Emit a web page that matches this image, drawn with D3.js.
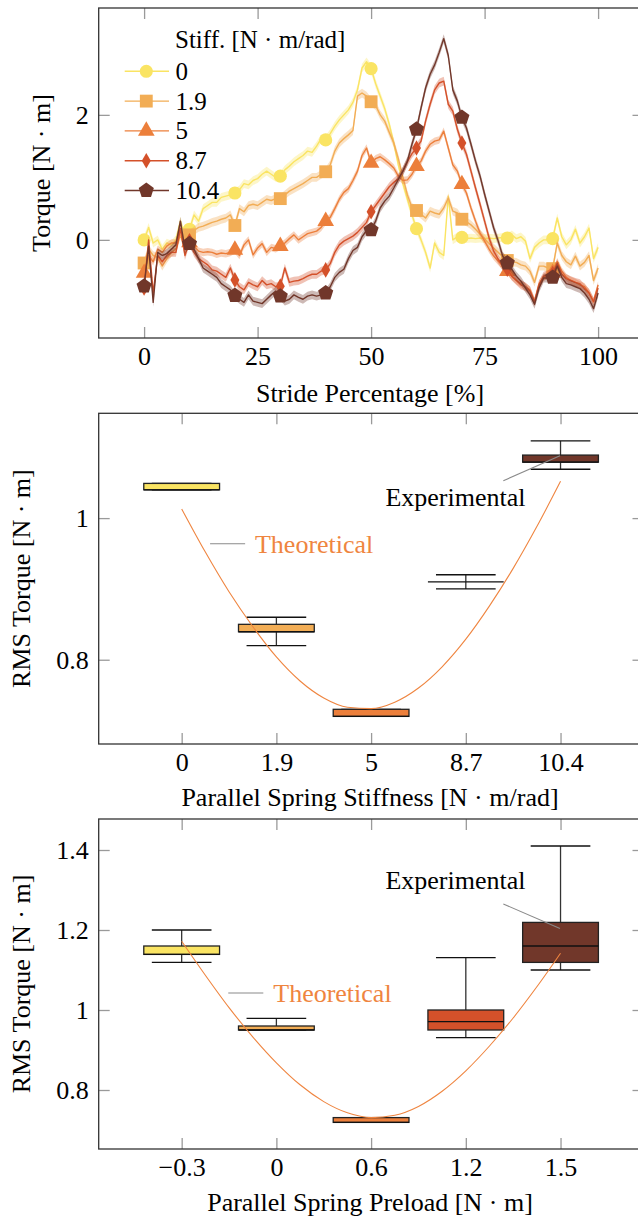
<!DOCTYPE html>
<html><head><meta charset="utf-8">
<script src="https://cdn.jsdelivr.net/npm/d3@7"></script>
<style>
body{margin:0;background:#fff;overflow:hidden;}
svg{display:block;}
</style></head>
<body><svg id="c" width="638" height="1224"></svg>
<script>
// ---------------- DATA ----------------
const stride = [0,1,2,3,4,5,6,7,8,9,10,11,12,13,14,15,16,17,18,19,20,21,22,23,24,25,26,27,28,29,30,31,32,33,34,35,36,37,38,39,40,41,42,43,44,45,46,47,48,49,50,51,52,53,54,55,56,57,58,59,60,61,62,63,64,65,66,67,68,69,70,71,72,73,74,75,76,77,78,79,80,81,82,83,84,85,86,87,88,89,90,91,92,93,94,95,96,97,98,99,100];
const strideTicks = [0,25,50,75,100];
const markerStride = [0,10,20,30,40,50,60,70,80,90];
const stiffLabels = ["0","1.9","5","8.7","10.4"];
const torqueK0 = [0.0,0.2,-0.05,0.0,-0.15,-0.05,-0.08,0.0,0.3,0.05,
 0.17,0.4,0.3,0.5,0.55,0.6,0.6,0.68,0.7,0.72,
 0.75,0.8,0.9,0.88,0.95,0.98,1.05,1.1,1.05,1.0,
 1.02,1.12,1.18,1.25,1.3,1.35,1.42,1.4,1.5,1.62,
 1.6,1.7,1.82,1.92,2.0,2.08,2.2,2.4,2.75,2.85,
 2.74,2.5,2.3,2.1,1.85,1.55,1.2,0.9,0.65,0.4,
 0.18,0.0,-0.2,-0.45,-0.05,-0.2,-0.25,0.7,0.0,0.05,
 0.04,0.02,0.03,0.02,0.03,0.02,0.03,0.02,0.03,0.04,
 0.03,0.08,0.02,0.05,-0.02,-0.3,-0.12,-0.05,0.0,0.0,
 0.02,0.35,0.05,-0.08,0.0,0.17,-0.05,0.05,0.19,-0.3,-0.12];
const torqueK19 = [-0.37,-0.15,-0.25,-0.28,-0.42,-0.3,-0.2,-0.15,0.08,-0.13,
 0.08,0.15,0.2,0.22,0.25,0.28,0.3,0.33,0.35,0.4,
 0.23,0.5,0.45,0.55,0.57,0.55,0.6,0.65,0.63,0.66,
 0.66,0.72,0.78,0.82,0.86,0.9,0.95,1.0,1.0,1.05,
 1.09,1.2,1.42,1.55,1.62,1.68,1.75,2.3,2.35,2.3,
 2.21,2.15,2.0,1.9,1.72,1.55,1.3,1.0,0.72,0.52,
 0.47,0.41,0.35,0.46,0.43,0.41,0.51,0.67,0.46,0.43,
 0.33,0.29,0.24,0.17,0.09,0.02,-0.06,-0.13,-0.2,-0.27,
 -0.33,-0.35,-0.36,-0.4,-0.42,-0.5,-0.68,-0.42,-0.42,-0.45,
 -0.46,-0.05,-0.25,-0.35,-0.4,-0.26,-0.42,-0.36,-0.25,-0.65,-0.45];
const torqueK5 = [-0.53,-0.25,-0.35,-0.15,-0.2,-0.1,-0.05,-0.05,0.18,-0.12,
 -0.04,-0.1,-0.18,-0.2,-0.19,-0.2,-0.23,-0.21,-0.22,-0.2,
 -0.16,-0.25,-0.08,0.0,-0.24,-0.13,-0.06,-0.2,-0.12,-0.14,
 -0.1,-0.05,0.02,0.08,0.0,0.05,0.1,0.12,0.14,0.2,
 0.3,0.36,0.5,0.65,0.76,0.82,0.95,1.1,1.35,1.47,
 1.23,1.3,1.33,1.28,1.22,1.15,1.02,0.95,0.96,1.05,
 1.18,1.26,1.42,1.53,1.58,1.6,1.74,1.47,1.2,1.1,
 0.89,0.75,0.51,0.3,0.11,-0.02,-0.15,-0.26,-0.34,-0.42,
 -0.5,-0.58,-0.65,-0.7,-0.75,-0.8,-0.99,-0.7,-0.6,-0.55,
 -0.53,-0.35,-0.5,-0.6,-0.65,-0.68,-0.72,-0.75,-0.85,-0.99,-0.72];
const torqueK87 = [-0.77,0.0,-0.85,-0.25,-0.35,-0.25,-0.2,-0.2,0.18,-0.25,
 -0.02,-0.2,-0.3,-0.35,-0.4,-0.48,-0.5,-0.55,-0.6,-0.45,
 -0.64,-0.75,-0.8,-0.68,-0.72,-0.75,-0.65,-0.72,-0.7,-0.75,
 -0.74,-0.45,-0.68,-0.66,-0.65,-0.62,-0.58,-0.55,-0.55,-0.5,
 -0.48,-0.38,-0.2,-0.08,-0.02,0.02,0.06,0.12,0.2,0.28,
 0.45,0.55,0.65,0.75,0.85,0.92,0.98,1.1,1.25,1.38,
 1.47,1.58,1.9,2.17,2.4,2.51,2.54,2.17,2.06,1.77,
 1.55,1.37,1.1,0.83,0.57,0.3,0.03,-0.18,-0.31,-0.42,
 -0.47,-0.58,-0.65,-0.72,-0.75,-0.82,-0.99,-0.72,-0.58,-0.55,
 -0.54,-0.38,-0.55,-0.62,-0.65,-0.68,-0.7,-0.78,-0.85,-0.99,-0.77];
const torqueK104 = [-0.74,-0.1,-1.0,-0.2,-0.25,-0.22,-0.15,-0.08,0.3,-0.15,
 -0.06,-0.15,-0.3,-0.45,-0.5,-0.55,-0.6,-0.7,-0.75,-0.8,
 -0.89,-0.95,-1.0,-0.88,-0.98,-1.0,-1.02,-0.95,-0.88,-0.82,
 -0.9,-0.98,-0.95,-0.88,-0.92,-0.95,-0.9,-0.88,-0.9,-0.88,
 -0.85,-0.75,-0.6,-0.52,-0.47,-0.3,-0.17,-0.12,0.05,0.15,
 0.16,0.3,0.51,0.62,0.7,0.83,0.97,1.1,1.26,1.53,
 1.77,2.11,2.43,2.65,2.8,3.0,3.22,2.95,2.4,2.22,
 1.96,1.79,1.53,1.26,1.02,0.73,0.46,0.19,-0.02,-0.26,
 -0.37,-0.47,-0.58,-0.66,-0.77,-0.88,-1.03,-0.77,-0.61,-0.61,
 -0.6,-0.42,-0.6,-0.7,-0.72,-0.75,-0.78,-0.85,-0.95,-1.1,-0.85];
const torqueSpread = [0.07,0.07,0.06,0.07,0.07];

// Panel 2: RMS vs stiffness
const stiffCats = ["0","1.9","5","8.7","10.4"];
const stiffLow  = [1.040,0.820,0.720,0.900,1.069];
const stiffQ1   = [1.040,0.8395,0.720,0.910,1.079];
const stiffMed  = [1.040,0.8395,0.720,0.910,1.079];
const stiffQ3   = [1.049,0.850,0.730,0.910,1.089];
const stiffHigh = [1.049,0.860,0.730,0.920,1.109];
const stiffTheoPos = [0,0.25,0.5,0.75,1,1.25,1.5,1.75,2,2.25,2.5,2.75,3,3.25,3.5,3.75,4];
const stiffTheoVal = [1.013,0.952,0.896,0.847,0.804,0.770,0.746,0.733,0.731,0.740,0.760,0.790,0.829,0.876,0.929,0.988,1.052];
const stiffYTicks = [0.8,1];

// Panel 3: RMS vs preload
const preCats = ["\u22120.3","0","0.6","1.2","1.5"];
const preLow  = [1.119,0.950,0.719,0.931,1.100];
const preQ1   = [1.139,0.950,0.719,0.950,1.119];
const preMed  = [1.139,0.950,0.719,0.971,1.160];
const preQ3   = [1.160,0.960,0.731,1.000,1.219];
const preHigh = [1.200,0.979,0.731,1.131,1.410];
const preTheoPos = [0,0.25,0.5,0.75,1,1.25,1.5,1.75,2,2.25,2.5,2.75,3,3.25,3.5,3.75,4];
const preTheoVal = [1.172,1.087,1.006,0.933,0.868,0.813,0.771,0.743,0.731,0.737,0.759,0.797,0.848,0.910,0.980,1.058,1.142];
const preYTicks = [0.8,1,1.2,1.4];

// ---------------- STYLE ----------------
const seriesColors = ["#fae463","#f2ad55","#ec7f3b","#d4512a","#71372a"];
const theoColor = "#ef8540";
const FONT = "'Liberation Serif', 'Times New Roman', Times, serif";
const FS = 26;
const X0 = 98.7, X1 = 643.5;

const svg = d3.select("#c").style("font-family", FONT);

function T(sel){ return sel.attr("font-family",FONT).attr("fill","#000"); }

function styleAxis(sel){
  sel.select(".domain").remove();
  sel.selectAll(".tick line").attr("stroke","#9a9a9a").attr("stroke-width",1.3);
  sel.attr("font-family",FONT).attr("font-size",FS);
  sel.selectAll(".tick text").attr("font-size",FS).attr("fill","#000").attr("font-family",FONT);
}
function frameAxes(g, x, y, top, bottom, xTicks, xFmt, yTicks, yFmt){
  g.append("g").attr("transform",`translate(0,${bottom})`)
    .call(d3.axisBottom(x).tickValues(xTicks).tickFormat(xFmt).tickSize(-11).tickPadding(9)).call(styleAxis);
  g.append("g").attr("transform",`translate(0,${top})`)
    .call(d3.axisTop(x).tickValues(xTicks).tickFormat("").tickSize(-11)).call(styleAxis);
  g.append("g").attr("transform",`translate(${X0},0)`)
    .call(d3.axisLeft(y).tickValues(yTicks).tickFormat(yFmt).tickSize(-11).tickPadding(10)).call(styleAxis);
  g.append("g").attr("transform",`translate(${X1},0)`)
    .call(d3.axisRight(y).tickValues(yTicks).tickFormat("").tickSize(-11)).call(styleAxis);
  g.append("rect").attr("x",X0).attr("y",top).attr("width",X1-X0).attr("height",bottom-top)
    .attr("fill","none").attr("stroke","#333").attr("stroke-width",1.3);
}
function axisTitles(g, xTitle, xBase, yTitle, yX, yMid){
  T(g.append("text")).attr("x",370).attr("y",xBase).attr("text-anchor","middle").attr("font-size",FS).text(xTitle);
  T(g.append("text")).attr("transform",`translate(${yX},${yMid}) rotate(-90)`).attr("text-anchor","middle").attr("font-size",FS).text(yTitle);
}

const symbolPentagon = {draw(ctx,size){
  const r = Math.sqrt(size/2.378);
  for(let i=0;i<5;i++){
    const a = -Math.PI/2 + i*2*Math.PI/5;
    const px = r*Math.cos(a), py = r*Math.sin(a);
    if(i===0) ctx.moveTo(px,py); else ctx.lineTo(px,py);
  }
  ctx.closePath();
}};
const markerSymbols = [
  d3.symbol(d3.symbolCircle,135),
  d3.symbol(d3.symbolSquare,165),
  d3.symbol(d3.symbolTriangle,120),
  d3.symbol(d3.symbolDiamond,70),
  d3.symbol(symbolPentagon,150)
];

// ---------------- PANEL 1 ----------------
{
  const top=8, bottom=338;
  const x = d3.scaleLinear().domain([-10,110]).range([X0,X1]);
  const y = d3.scaleLinear().domain([-1.57,3.71]).range([bottom,top]);
  const g = svg.append("g");
  const allSeries = [torqueK0,torqueK19,torqueK5,torqueK87,torqueK104];
  allSeries.forEach((vals,k)=>{
    const pts = stride.map((s,i)=>({s, v:vals[i]}));
    const sp = torqueSpread[k];
    g.append("path").datum(pts)
      .attr("d", d3.area().x(d=>x(d.s)).y0(d=>y(d.v-sp)).y1(d=>y(d.v+sp)))
      .attr("fill",seriesColors[k]).attr("fill-opacity",0.35).attr("stroke","none");
    g.append("path").datum(pts)
      .attr("d", d3.line().x(d=>x(d.s)).y(d=>y(d.v)))
      .attr("fill","none").attr("stroke",seriesColors[k]).attr("stroke-width",1.4).attr("stroke-linejoin","round");
    g.selectAll(null).data(markerStride).enter().append("path")
      .attr("transform",s=>`translate(${x(s)},${y(vals[stride.indexOf(s)])})`)
      .attr("d",markerSymbols[k]()).attr("fill",seriesColors[k]);
  });
  frameAxes(g, x, y, top, bottom, strideTicks, d3.format("d"), [0,2], d3.format("d"));
  axisTitles(g, "Stride Percentage [%]", 402, "Torque [N \u00b7 m]", 50, 173);

  const lg = g.append("g");
  T(lg.append("text")).attr("x",175).attr("y",48).attr("font-size",25).text("Stiff. [N \u00b7 m/rad]");
  stiffLabels.forEach((lab,k)=>{
    const ry = 71.3 + k*29.8;
    lg.append("line").attr("x1",124.7).attr("x2",169).attr("y1",ry).attr("y2",ry)
      .attr("stroke",seriesColors[k]).attr("stroke-width",1.4);
    lg.append("path").attr("transform",`translate(146.3,${ry})`).attr("d",markerSymbols[k]()).attr("fill",seriesColors[k]);
    T(lg.append("text")).attr("x",175.5).attr("y",ry+8.5).attr("font-size",25).text(lab);
  });
}

// ---------------- BOX PANELS ----------------
function boxPanel(top, bottom, yDomain, cats, low, q1, med, q3, high, theoPos, theoVal, yTicks, xTitle, annot){
  const x = d3.scaleLinear().domain([-0.876,4.876]).range([X0,X1]);
  const y = d3.scaleLinear().domain(yDomain).range([bottom,top]);
  const g = svg.append("g");
  const bw = 0.8, cw = 0.63;
  cats.forEach((c,i)=>{
    const bx = g.append("g");
    bx.append("line").attr("x1",x(i)).attr("x2",x(i)).attr("y1",y(high[i])).attr("y2",y(q3[i])).attr("stroke","#333").attr("stroke-width",1.3);
    bx.append("line").attr("x1",x(i)).attr("x2",x(i)).attr("y1",y(low[i])).attr("y2",y(q1[i])).attr("stroke","#333").attr("stroke-width",1.3);
    bx.append("line").attr("x1",x(i-cw/2)).attr("x2",x(i+cw/2)).attr("y1",y(high[i])).attr("y2",y(high[i])).attr("stroke","#111").attr("stroke-width",1.3);
    bx.append("line").attr("x1",x(i-cw/2)).attr("x2",x(i+cw/2)).attr("y1",y(low[i])).attr("y2",y(low[i])).attr("stroke","#111").attr("stroke-width",1.3);
    bx.append("rect").attr("x",x(i-bw/2)).attr("y",y(q3[i])).attr("width",x(i+bw/2)-x(i-bw/2))
      .attr("height",Math.max(0,y(q1[i])-y(q3[i])))
      .attr("fill",seriesColors[i]).attr("stroke","#222").attr("stroke-width",1.3);
    bx.append("line").attr("x1",x(i-bw/2)).attr("x2",x(i+bw/2)).attr("y1",y(med[i])).attr("y2",y(med[i])).attr("stroke","#111").attr("stroke-width",1.3);
  });
  const tp = theoPos.map((p,i)=>({p, v:theoVal[i]}));
  g.append("path").datum(tp).attr("d",d3.line().curve(d3.curveMonotoneX).x(d=>x(d.p)).y(d=>y(d.v)))
    .attr("fill","none").attr("stroke",theoColor).attr("stroke-width",1.1);
  const a = annot;
  g.append("line").attr("x1",x(a.tl[0])).attr("x2",x(a.tl[1])).attr("y1",y(a.tl[2])).attr("y2",y(a.tl[2])).attr("stroke","#8a8a8a").attr("stroke-width",1.1);
  T(g.append("text")).attr("x",x(a.tt[0])).attr("y",y(a.tt[1])).attr("dy","0.34em").attr("font-size",FS).attr("fill",theoColor).text("Theoretical");
  g.append("line").attr("x1",x(a.el[0])).attr("y1",y(a.el[1])).attr("x2",x(a.el[2])).attr("y2",y(a.el[3])).attr("stroke","#8a8a8a").attr("stroke-width",1.1);
  T(g.append("text")).attr("x",x(a.et[0])).attr("y",y(a.et[1])).attr("text-anchor","end").attr("font-size",FS).text("Experimental");

  frameAxes(g, x, y, top, bottom, [0,1,2,3,4], i=>cats[i], yTicks, d=>String(d));
  axisTitles(g, xTitle, bottom+62, "RMS Torque [N \u00b7 m]", 30, (top+bottom)/2);
}

boxPanel(413.3, 744, [0.681,1.148], stiffCats, stiffLow, stiffQ1, stiffMed, stiffQ3, stiffHigh,
  stiffTheoPos, stiffTheoVal, stiffYTicks, "Parallel Spring Stiffness [N \u00b7 m/rad]",
  {tl:[0.30,0.67,0.9637], tt:[0.774,0.9637], el:[3.396,1.0527,3.994,1.088], et:[3.63,1.0174]});

boxPanel(819, 1149, [0.6525,1.4775], preCats, preLow, preQ1, preMed, preQ3, preHigh,
  preTheoPos, preTheoVal, preYTicks, "Parallel Spring Preload [N \u00b7 m]",
  {tl:[0.492,0.862,1.0425], tt:[0.967,1.0425], el:[3.396,1.265,3.994,1.204], et:[3.63,1.3025]});
</script>
</body></html>
